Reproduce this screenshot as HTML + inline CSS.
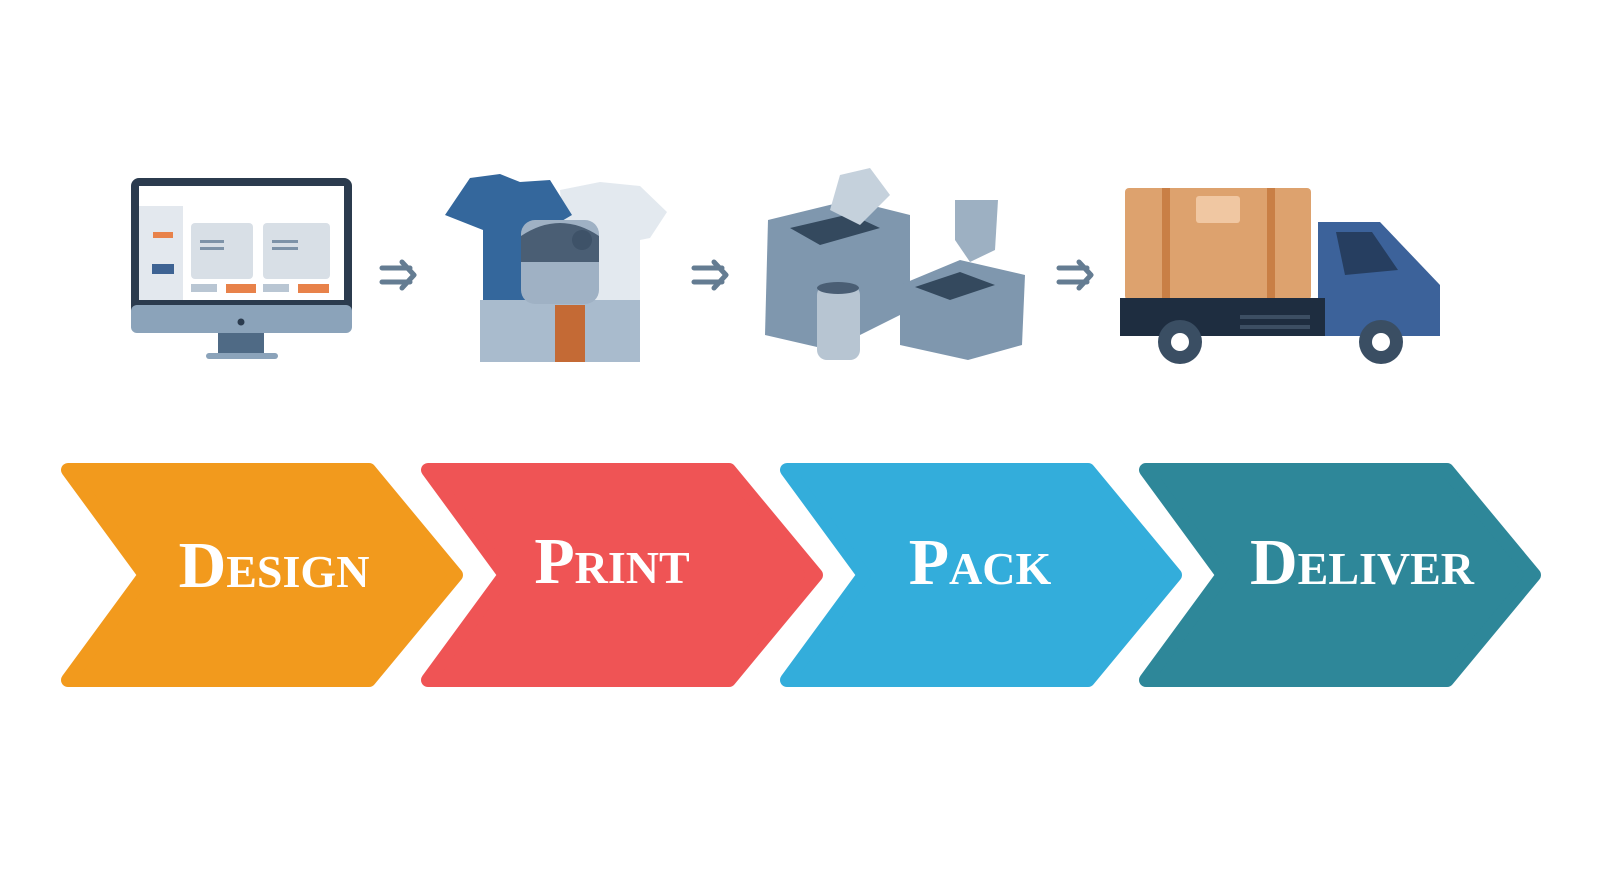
<!DOCTYPE html>
<html><head><meta charset="utf-8"><style>
html,body{margin:0;padding:0;background:#fff;width:1600px;height:896px;overflow:hidden;}
svg{display:block;position:absolute;left:0;top:0;width:1600px;height:896px}
.t{font-family:"Liberation Serif",serif;font-weight:bold;font-variant:small-caps;fill:#fff;font-size:66px;text-anchor:middle;}
</style></head><body>
<svg width="1600" height="896" viewBox="0 0 1600 896" xmlns="http://www.w3.org/2000/svg">
<g stroke-linejoin="round" stroke-width="14">
<path d="M68,470 L369,470 L456,575 L369,680 L68,680 L145,575 Z" fill="#F29A1D" stroke="#F29A1D"/>
<path d="M428,470 L729,470 L816,575 L729,680 L428,680 L505,575 Z" fill="#EF5455" stroke="#EF5455"/>
<path d="M787,470 L1088,470 L1175,575 L1088,680 L787,680 L864,575 Z" fill="#33ADDB" stroke="#33ADDB"/>
<path d="M1146,470 L1447,470 L1534,575 L1447,680 L1146,680 L1223,575 Z" fill="#2E8799" stroke="#2E8799"/>
</g>
<text class="t" x="274" y="587">Design</text>
<text class="t" x="612" y="583">Print</text>
<text class="t" x="980" y="584">Pack</text>
<text class="t" x="1362" y="584">Deliver</text>

<g fill="none" stroke="#647C92" stroke-width="5" stroke-linecap="round" stroke-linejoin="round">
<path d="M382,268 H410 M382,282 H410 M402,262 L414,275 L402,288"/>
<path d="M694,268 H722 M694,282 H722 M714,262 L726,275 L714,288"/>
<path d="M1059,268 H1087 M1059,282 H1087 M1079,262 L1091,275 L1079,288"/>
</g>

<rect x="131" y="178" width="221" height="155" rx="8" fill="#2B3B4E"/>
<rect x="139" y="186" width="205" height="114" fill="#fff"/>
<rect x="139" y="206" width="44" height="94" fill="#E3E8EE"/>
<rect x="131" y="305" width="221" height="28" rx="6" fill="#8BA3BA"/>
<circle cx="241" cy="322" r="3.5" fill="#2B3B4E"/>
<path d="M218,333 H264 L264,353 H218 Z" fill="#4F6A85"/>
<rect x="206" y="353" width="72" height="6" rx="3" fill="#8BA3BA"/>
<rect x="191" y="223" width="62" height="56" rx="4" fill="#D8DFE6"/>
<rect x="263" y="223" width="67" height="56" rx="4" fill="#D8DFE6"/>
<rect x="191" y="284" width="26" height="8" fill="#B9C6D3"/><rect x="226" y="284" width="30" height="9" fill="#E8824A"/>
<rect x="263" y="284" width="26" height="8" fill="#B9C6D3"/><rect x="298" y="284" width="31" height="9" fill="#E8824A"/>
<rect x="153" y="232" width="20" height="6" fill="#E8824A"/>
<rect x="152" y="264" width="22" height="10" fill="#3E6393"/>
<g fill="#7E93A8"><rect x="200" y="240" width="24" height="3"/><rect x="200" y="247" width="24" height="3"/><rect x="272" y="240" width="26" height="3"/><rect x="272" y="247" width="26" height="3"/></g>

<path d="M560,190 L600,182 L640,186 L667,212 L650,238 L640,240 L640,300 L570,300 Z" fill="#E3E9EF"/>
<path d="M470,178 L500,174 L520,182 L550,180 L572,215 L555,225 L552,300 L483,300 L483,230 L445,215 Z" fill="#34679C"/>
<rect x="480" y="300" width="160" height="62" fill="#A9BBCD"/>
<rect x="555" y="305" width="30" height="57" fill="#C46A35"/>
<rect x="521" y="220" width="78" height="84" rx="14" fill="#9FB1C4"/>
<path d="M521,236 Q560,210 599,236 L599,262 L521,262 Z" fill="#4A5E74"/>
<circle cx="582" cy="240" r="10" fill="#3E5268"/>

<path d="M768,220 L850,200 L910,215 L910,310 L830,350 L765,335 Z" fill="#7F97AE"/>
<path d="M790,228 L850,214 L880,228 L820,245 Z" fill="#34495E"/>
<path d="M830,210 L840,175 L870,168 L890,195 L860,225 Z" fill="#C5D1DC"/>
<path d="M900,285 L960,260 L1025,275 L1022,345 L968,360 L900,345 Z" fill="#7F97AE"/>
<path d="M915,287 L960,272 L995,285 L950,300 Z" fill="#34495E"/>
<path d="M955,200 L998,200 L995,250 L970,262 L955,240 Z" fill="#9DB0C2"/>
<rect x="817" y="285" width="43" height="75" rx="10" fill="#B7C5D2"/>
<ellipse cx="838" cy="288" rx="21" ry="6" fill="#4A5E74"/>

<rect x="1125" y="188" width="186" height="112" rx="4" fill="#DDA26E"/>
<rect x="1162" y="188" width="8" height="112" fill="#C97F45"/>
<rect x="1267" y="188" width="8" height="112" fill="#C97F45"/>
<rect x="1196" y="196" width="44" height="27" rx="3" fill="#F0C7A2"/>
<path d="M1318,222 L1380,222 L1440,285 L1440,336 L1318,336 Z" fill="#3C629A"/>
<path d="M1336,232 L1372,232 L1398,270 L1345,275 Z" fill="#263E60"/>
<rect x="1120" y="298" width="205" height="38" fill="#1E2D40"/>
<rect x="1240" y="315" width="70" height="4" fill="#3C4E63"/><rect x="1240" y="325" width="70" height="4" fill="#3C4E63"/>
<circle cx="1180" cy="342" r="22" fill="#3A4E63"/><circle cx="1180" cy="342" r="9" fill="#fff"/>
<circle cx="1381" cy="342" r="22" fill="#3A4E63"/><circle cx="1381" cy="342" r="9" fill="#fff"/>
</svg>
</body></html>
